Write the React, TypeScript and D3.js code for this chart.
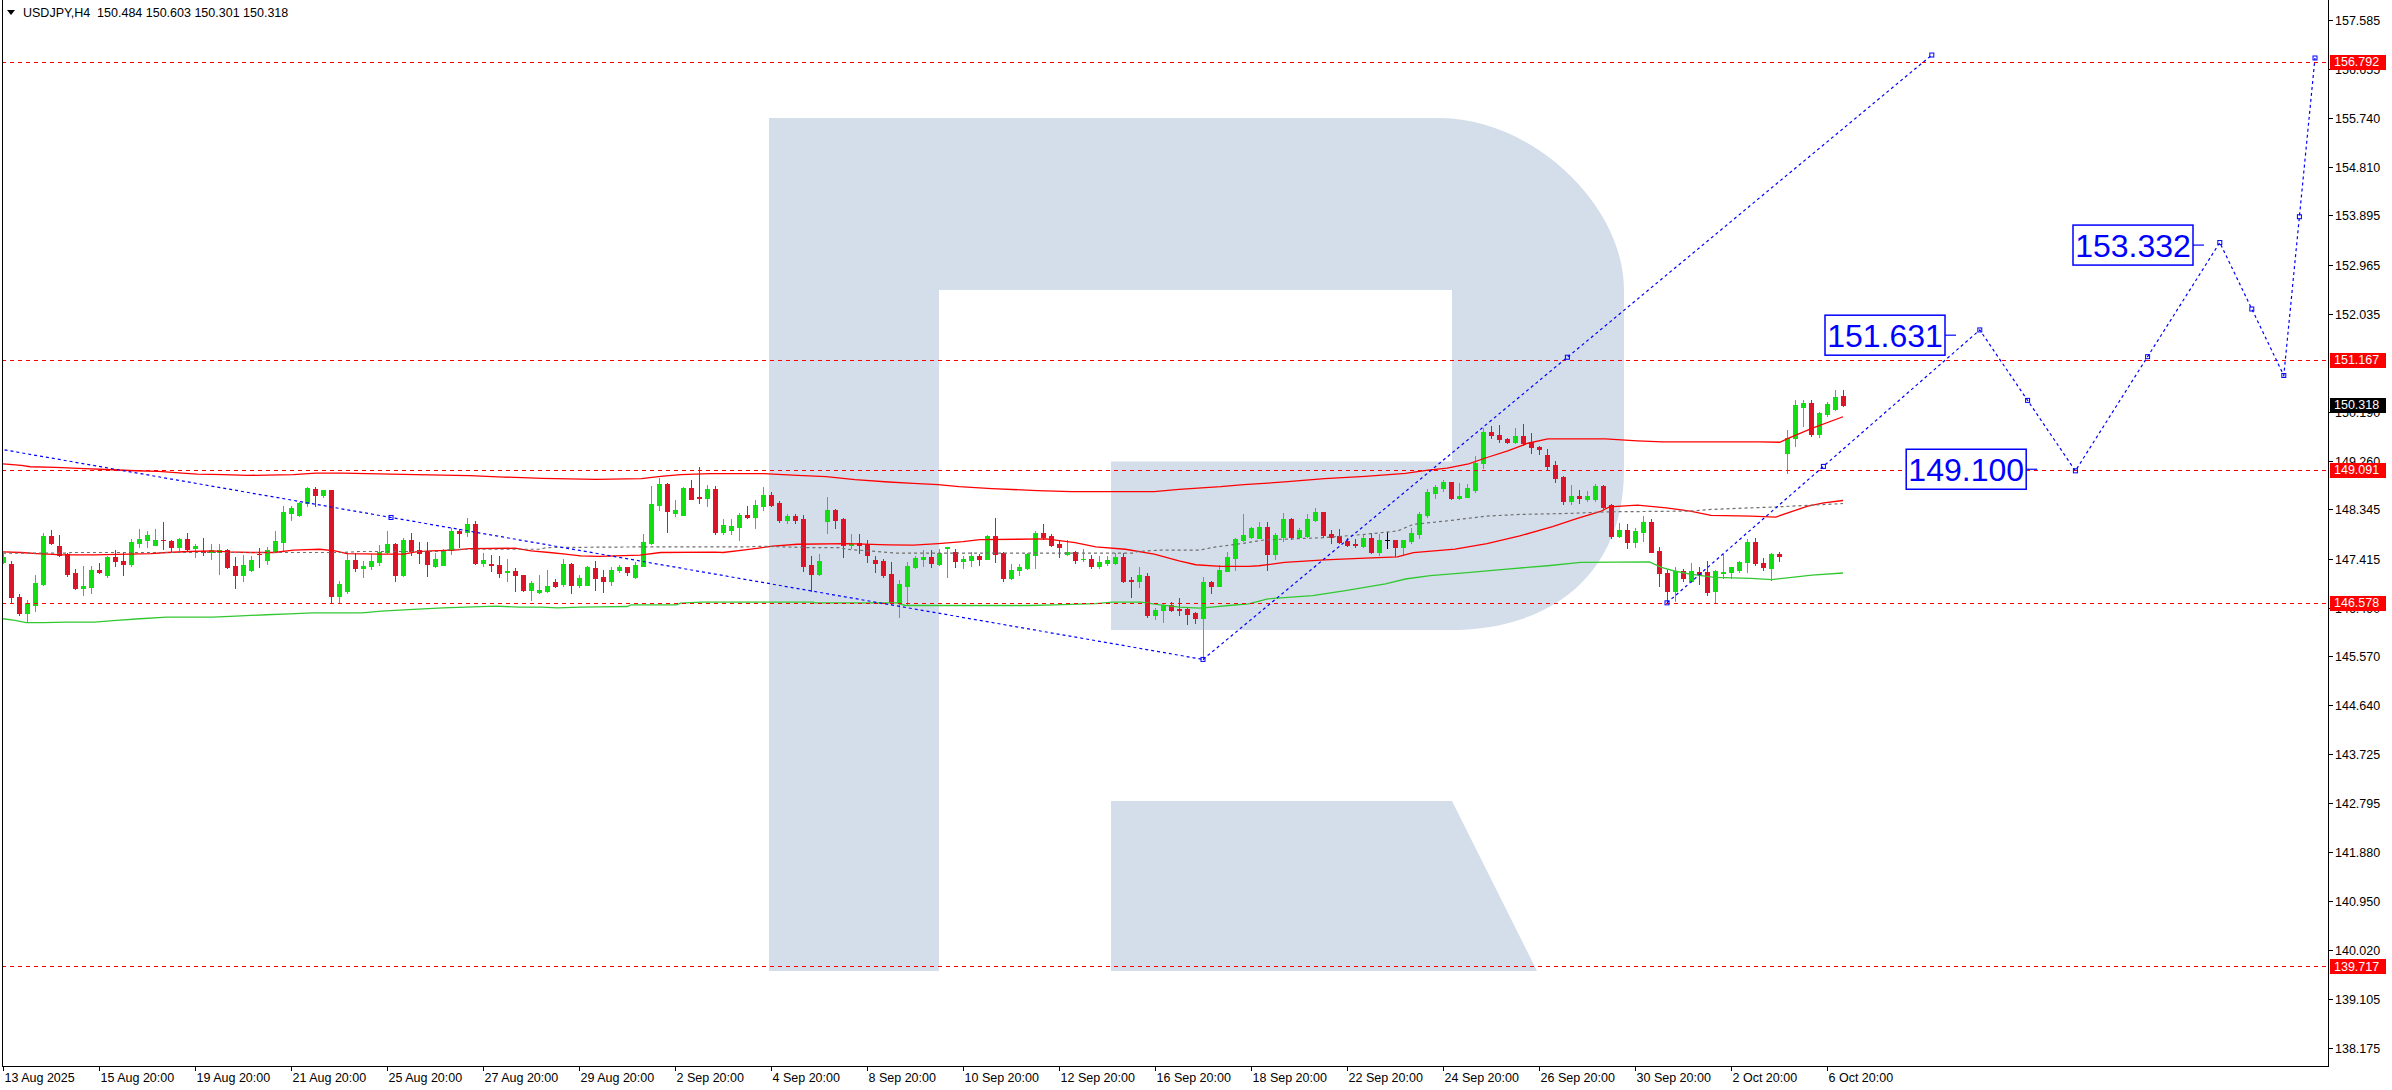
import React from 'react';
import * as d3 from 'd3';

const WIDTH = 2392;
const HEIGHT = 1090;
const PLOT_L = 2;
const PLOT_R = 2328;
const PLOT_T = 0;
const PLOT_B = 1066;

const FONT = "Tahoma, 'Liberation Sans', Arial, sans-serif";
const BULL = '#12dc12';
const BEAR = '#dc1428';
const RED = '#ff0000';
const BLUE = '#0000ff';
const LOGO = '#d4deea';

const symbolTitle = 'USDJPY,H4  150.484 150.603 150.301 150.318';

const timeLabels = [
  '13 Aug 2025', '15 Aug 20:00', '19 Aug 20:00', '21 Aug 20:00', '25 Aug 20:00',
  '27 Aug 20:00', '29 Aug 20:00', '2 Sep 20:00', '4 Sep 20:00', '8 Sep 20:00',
  '10 Sep 20:00', '12 Sep 20:00', '16 Sep 20:00', '18 Sep 20:00', '22 Sep 20:00',
  '24 Sep 20:00', '26 Sep 20:00', '30 Sep 20:00', '2 Oct 20:00', '6 Oct 20:00',
];
const timeLabelBars = [0, 12, 24, 36, 48, 60, 72, 84, 96, 108, 120, 132, 144, 156, 168, 180, 192, 204, 216, 228];

const priceTicks = [
  157.585, 156.655, 155.74, 154.81, 153.895, 152.965, 152.035, 150.19, 149.26,
  148.345, 147.415, 146.49, 145.57, 144.64, 143.725, 142.795, 141.88, 140.95, 140.02,
  139.105, 138.175,
];

const levelPrices = [156.792, 151.167, 149.091, 146.578, 139.717];
const lastPrice = 150.318;

const opens = [
  147.341, 147.309, 146.696, 146.384, 146.540, 146.934, 147.840, 147.653, 147.509, 147.146,
  146.853, 146.871, 147.203, 147.109, 147.434, 147.372, 147.315, 147.715, 147.765, 147.678,
  147.765, 147.747, 147.640, 147.784, 147.609, 147.559, 147.547, 147.547, 147.578, 147.278,
  147.096, 147.203, 147.509, 147.378, 147.559, 147.734, 148.278, 148.228, 148.466, 148.734,
  148.616, 148.703, 146.703, 146.809, 147.390, 147.228, 147.265, 147.353, 147.540, 147.690,
  147.096, 147.765, 147.578, 147.559, 147.278, 147.297, 147.578, 147.934, 147.922, 148.065,
  147.334, 147.315, 147.297, 147.153, 147.184, 147.109, 146.828, 146.778, 146.809, 146.965,
  146.934, 147.309, 146.909, 146.922, 147.240, 147.059, 146.984, 147.190, 147.247, 147.072,
  147.278, 147.715, 148.428, 148.822, 148.272, 148.240, 148.741, 148.584, 148.559, 148.722,
  147.915, 147.959, 148.009, 148.234, 148.197, 148.403, 148.609, 148.459, 148.140, 148.215,
  148.165, 147.297, 147.121, 148.122, 148.328, 148.165, 147.672, 147.709, 147.684, 147.390,
  147.359, 147.128, 146.603, 146.903, 147.259, 147.397, 147.434, 147.309, 147.622, 147.540,
  147.359, 147.390, 147.465, 147.415, 147.840, 147.522, 147.040, 147.197, 147.228, 147.484,
  147.897, 147.840, 147.697, 147.497, 147.540, 147.397, 147.415, 147.265, 147.322, 147.322,
  147.447, 147.015, 146.984, 147.090, 146.353, 146.447, 146.540, 146.459, 146.453, 146.384,
  146.290, 146.978, 146.903, 147.184, 147.422, 147.765, 147.822, 147.809, 148.015, 147.509,
  147.828, 148.160, 147.822, 147.840, 148.147, 148.291, 147.872, 147.841, 147.747, 147.691,
  147.653, 147.809, 147.547, 147.759, 147.766, 147.641, 147.747, 147.884, 148.235, 148.653,
  148.747, 148.860, 148.560, 148.578, 148.703, 149.216, 149.810, 149.747, 149.672, 149.622,
  149.735, 149.622, 149.528, 149.378, 149.172, 148.947, 148.510, 148.591, 148.547, 148.541,
  148.778, 148.422, 147.841, 147.953, 147.728, 147.922, 148.103, 147.560, 147.147, 146.797,
  147.172, 146.985, 147.153, 147.166, 146.809, 147.147, 147.153, 147.203, 147.341, 147.728,
  147.328, 147.234, 147.509, 149.403, 149.685, 150.279, 150.354, 149.760, 150.141, 150.235,
  150.484,
];
const highs = [
  147.497, 147.372, 146.746, 146.634, 147.109, 147.897, 147.953, 147.859, 147.522, 147.215,
  147.278, 147.265, 147.328, 147.465, 147.578, 147.534, 147.790, 147.972, 147.934, 147.978,
  148.103, 147.772, 147.809, 147.897, 147.684, 147.809, 147.684, 147.684, 147.590, 147.447,
  147.484, 147.465, 147.622, 147.634, 147.934, 148.403, 148.403, 148.491, 148.759, 148.759,
  148.716, 148.716, 146.997, 147.528, 147.522, 147.372, 147.497, 147.665, 147.934, 147.703,
  147.809, 147.897, 147.728, 147.728, 147.528, 147.590, 147.997, 147.978, 148.172, 148.122,
  147.515, 147.478, 147.465, 147.403, 147.228, 147.109, 146.997, 147.109, 147.203, 147.028,
  147.415, 147.322, 147.109, 147.265, 147.372, 147.203, 147.247, 147.297, 147.247, 147.341,
  147.872, 148.778, 148.934, 148.841, 148.516, 148.759, 148.903, 149.141, 148.797, 148.778,
  148.153, 148.165, 148.272, 148.397, 148.516, 148.759, 148.672, 148.509, 148.247, 148.247,
  148.228, 147.465, 147.497, 148.572, 148.353, 148.184, 147.884, 147.872, 147.772, 147.465,
  147.415, 147.341, 147.015, 147.353, 147.465, 147.578, 147.578, 147.590, 147.634, 147.590,
  147.465, 147.540, 147.497, 147.853, 148.184, 147.540, 147.309, 147.309, 147.528, 147.934,
  148.072, 147.872, 147.747, 147.759, 147.559, 147.590, 147.484, 147.465, 147.465, 147.528,
  147.528, 147.059, 147.259, 147.140, 146.478, 146.571, 146.590, 146.665, 146.484, 146.403,
  147.059, 146.997, 147.290, 147.540, 147.809, 148.247, 148.015, 148.110, 148.103, 147.903,
  148.272, 148.172, 147.997, 148.247, 148.372, 148.297, 147.947, 147.966, 147.809, 147.778,
  147.859, 147.891, 147.872, 147.916, 147.766, 147.772, 147.997, 148.291, 148.728, 148.810,
  148.903, 148.866, 148.841, 148.828, 149.341, 149.872, 149.916, 149.935, 149.697, 149.872,
  149.947, 149.778, 149.547, 149.485, 149.260, 148.966, 148.797, 148.716, 148.684, 148.828,
  148.797, 148.447, 148.091, 148.059, 147.997, 148.216, 148.153, 147.634, 147.197, 147.247,
  147.216, 147.322, 147.247, 147.372, 147.197, 147.509, 147.259, 147.372, 147.778, 147.809,
  147.422, 147.528, 147.541, 149.841, 150.404, 150.416, 150.416, 150.185, 150.372, 150.604,
  150.603,
];
const lows = [
  147.322, 146.603, 146.340, 146.215, 146.421, 146.922, 147.684, 147.453, 147.090, 146.840,
  146.728, 146.759, 147.146, 147.072, 147.278, 147.109, 147.265, 147.640, 147.640, 147.672,
  147.597, 147.547, 147.584, 147.584, 147.434, 147.490, 147.415, 147.121, 147.228, 146.853,
  146.997, 147.184, 147.247, 147.309, 147.540, 147.559, 148.140, 148.215, 148.397, 148.397,
  148.572, 146.578, 146.590, 146.765, 147.184, 147.072, 147.215, 147.290, 147.522, 146.984,
  147.090, 147.478, 147.322, 147.090, 147.247, 147.297, 147.509, 147.634, 147.840, 147.309,
  147.278, 147.184, 147.072, 146.984, 146.809, 146.809, 146.640, 146.765, 146.778, 146.878,
  146.903, 146.759, 146.871, 146.909, 146.828, 146.778, 146.922, 147.153, 147.109, 147.040,
  147.265, 147.684, 148.340, 147.922, 148.215, 148.234, 148.534, 148.466, 148.403, 147.884,
  147.872, 147.872, 147.772, 148.172, 147.997, 148.322, 148.403, 148.103, 148.078, 148.078,
  147.184, 146.809, 147.109, 147.903, 147.997, 147.447, 147.622, 147.528, 147.341, 147.153,
  147.059, 146.559, 146.309, 146.559, 147.234, 147.278, 147.259, 147.297, 147.059, 147.247,
  147.228, 147.265, 147.290, 147.403, 147.341, 146.984, 147.028, 147.109, 147.215, 147.228,
  147.778, 147.653, 147.447, 147.484, 147.322, 147.372, 147.234, 147.234, 147.297, 147.309,
  146.978, 146.684, 146.871, 146.309, 146.265, 146.215, 146.415, 146.353, 146.171, 146.197,
  145.509, 146.759, 146.890, 147.172, 147.203, 147.747, 147.809, 147.797, 147.203, 147.403,
  147.747, 147.778, 147.809, 147.828, 148.122, 147.822, 147.716, 147.716, 147.647, 147.641,
  147.641, 147.528, 147.484, 147.609, 147.453, 147.497, 147.716, 147.809, 148.197, 148.560,
  148.684, 148.541, 148.547, 148.572, 148.666, 149.122, 149.697, 149.622, 149.603, 149.591,
  149.560, 149.403, 149.391, 149.091, 148.860, 148.447, 148.447, 148.466, 148.510, 148.510,
  148.372, 147.809, 147.828, 147.622, 147.641, 147.747, 147.541, 146.903, 146.572, 146.609,
  146.997, 146.966, 146.934, 146.728, 146.578, 147.047, 147.047, 147.166, 147.166, 147.297,
  147.203, 147.009, 147.372, 149.028, 149.541, 149.922, 149.735, 149.716, 150.110, 150.216,
  150.301,
];
const closes = [
  147.434, 146.684, 146.384, 146.571, 146.953, 147.840, 147.715, 147.472, 147.121, 146.853,
  146.890, 147.203, 147.153, 147.434, 147.359, 147.315, 147.728, 147.784, 147.859, 147.765,
  147.759, 147.640, 147.784, 147.603, 147.659, 147.547, 147.572, 147.584, 147.247, 147.096,
  147.297, 147.384, 147.497, 147.578, 147.747, 148.290, 148.372, 148.466, 148.747, 148.616,
  148.703, 146.703, 146.934, 147.390, 147.228, 147.278, 147.372, 147.540, 147.690, 147.096,
  147.765, 147.559, 147.528, 147.303, 147.415, 147.559, 147.934, 147.897, 148.059, 147.334,
  147.390, 147.284, 147.146, 147.184, 147.096, 146.828, 146.959, 146.828, 146.903, 146.890,
  147.309, 146.909, 147.040, 147.247, 147.040, 146.984, 147.203, 147.247, 147.153, 147.297,
  147.728, 148.441, 148.822, 148.309, 148.328, 148.747, 148.547, 148.559, 148.722, 147.915,
  148.047, 148.028, 148.234, 148.197, 148.422, 148.609, 148.422, 148.140, 148.209, 148.140,
  147.278, 147.128, 147.372, 148.328, 148.140, 147.672, 147.697, 147.672, 147.484, 147.328,
  147.103, 146.603, 146.928, 147.278, 147.428, 147.434, 147.322, 147.528, 147.634, 147.359,
  147.415, 147.465, 147.415, 147.840, 147.509, 147.040, 147.203, 147.247, 147.497, 147.903,
  147.822, 147.672, 147.634, 147.540, 147.390, 147.415, 147.265, 147.341, 147.390, 147.447,
  146.997, 146.984, 147.109, 146.340, 146.447, 146.540, 146.434, 146.440, 146.359, 146.290,
  146.978, 146.903, 147.203, 147.434, 147.790, 147.859, 147.997, 148.015, 147.509, 147.859,
  148.160, 147.828, 147.953, 148.160, 148.291, 147.853, 147.828, 147.728, 147.672, 147.672,
  147.809, 147.540, 147.766, 147.759, 147.641, 147.766, 147.891, 148.247, 148.666, 148.766,
  148.860, 148.560, 148.591, 148.747, 149.216, 149.797, 149.747, 149.672, 149.610, 149.728,
  149.603, 149.528, 149.485, 149.153, 148.935, 148.510, 148.591, 148.560, 148.591, 148.778,
  148.391, 147.841, 147.947, 147.728, 147.935, 148.103, 147.547, 147.134, 146.809, 147.172,
  147.041, 147.172, 147.122, 146.778, 147.172, 147.166, 147.247, 147.353, 147.728, 147.328,
  147.247, 147.509, 147.453, 149.697, 150.310, 150.354, 149.760, 150.154, 150.341, 150.466,
  150.318,
];

// indicator lines: [bar index, price]
const maUpperRed: [number, number][] = [
  [0, 149.203], [2.3, 149.172], [3.4, 149.147], [6.6, 149.134], [9.4, 149.116], [13.7, 149.091],
  [16.6, 149.072], [19.5, 149.059], [22.4, 149.028], [24.3, 149.009], [27.6, 148.997], [30.5, 148.984],
  [36.3, 148.997], [39.1, 149.028], [42.5, 149.028], [45.4, 149.016], [51.6, 148.997], [58.3, 148.978],
  [62.6, 148.953], [67.4, 148.928], [74.1, 148.909], [79.8, 148.922], [82.2, 148.966], [84.7, 148.997],
  [88.4, 149.016], [95.1, 149.016], [99.3, 148.984], [102.9, 148.959], [106.5, 148.903], [110.7, 148.859],
  [113.8, 148.834], [116.9, 148.809], [119.5, 148.772], [123.6, 148.734], [129.3, 148.697], [133.5, 148.678],
  [143.9, 148.678], [147.0, 148.722], [152.2, 148.772], [155.1, 148.81], [160.2, 148.86], [165.2, 148.922],
  [170.3, 148.966], [175.3, 149.022], [177.9, 149.078], [180.5, 149.122], [183.2, 149.203], [185.5, 149.322],
  [188.1, 149.447], [190.6, 149.591], [193.1, 149.672], [200.3, 149.672], [204.3, 149.635], [207.4, 149.616],
  [219.5, 149.616], [222.1, 149.61], [223, 149.672], [226.1, 149.872], [230, 150.091],
];
const maMidRed: [number, number][] = [
  [0, 147.54], [2.3, 147.528], [4.2, 147.509], [7.5, 147.484], [11.4, 147.484], [15.7, 147.497],
  [18.5, 147.509], [20.5, 147.528], [23.3, 147.547], [26.2, 147.559], [28.1, 147.54], [31.0, 147.528],
  [33.9, 147.528], [36.3, 147.572], [39.6, 147.59], [41.5, 147.559], [43.0, 147.509], [47.3, 147.497],
  [50.1, 147.497], [51.6, 147.54], [53.5, 147.559], [56.4, 147.572], [58.3, 147.603], [64.0, 147.609],
  [66.0, 147.559], [68.3, 147.528], [70.3, 147.497], [72.2, 147.465], [74.5, 147.456], [79.6, 147.478],
  [82.2, 147.528], [88.9, 147.534], [90.0, 147.528], [93.0, 147.584], [96.2, 147.647], [99.3, 147.684],
  [105.5, 147.697], [110.7, 147.672], [113.8, 147.666], [116.9, 147.697], [120.0, 147.734], [122.1, 147.772],
  [130.4, 147.784], [134.0, 147.716], [136.6, 147.634], [140.3, 147.59], [143.9, 147.497], [147.0, 147.372],
  [149.1, 147.297], [152.2, 147.265], [155.7, 147.265], [157, 147.278], [160.2, 147.341], [165.2, 147.391],
  [170.3, 147.422], [174.3, 147.447], [176.3, 147.528], [181.5, 147.591], [185.5, 147.697], [189.6, 147.841],
  [193.7, 148.016], [196.7, 148.166], [199.8, 148.31], [200.8, 148.391], [204.3, 148.422], [207.9, 148.372],
  [210.9, 148.31], [213.5, 148.228], [218.5, 148.216], [221.6, 148.197], [223.1, 148.278], [225.6, 148.403],
  [227.6, 148.466], [230, 148.51],
];
const maGrey: [number, number][] = [
  [0, 147.516], [8, 147.516], [8.5, 147.528], [42.5, 147.528], [44.5, 147.547], [55, 147.547],
  [56, 147.59], [67, 147.59], [68, 147.622], [79.6, 147.634], [92.7, 147.634], [95.1, 147.647],
  [97.7, 147.634], [100.3, 147.622], [104.5, 147.622], [105.5, 147.59], [108.1, 147.559], [111.7, 147.516],
  [141.3, 147.516], [141.8, 147.547], [144.4, 147.572], [149.6, 147.572], [151.1, 147.622], [154.8, 147.697],
  [157.7, 147.766], [165.2, 147.809], [170.3, 147.872], [174.3, 147.934], [176.3, 148.06], [180.3, 148.122],
  [185.5, 148.216], [189.6, 148.247], [195.7, 148.266], [200.8, 148.297], [210.9, 148.31], [213.5, 148.341],
  [218.5, 148.372], [221.1, 148.385], [226.1, 148.422], [230, 148.453],
];
const maGreen: [number, number][] = [
  [0, 146.278], [1.5, 146.246], [2.9, 146.203], [5.1, 146.203], [8, 146.215], [11.4, 146.215],
  [14.2, 146.246], [17.1, 146.278], [20.5, 146.309], [26.2, 146.309], [29.1, 146.328], [32.9, 146.353],
  [35.8, 146.371], [38.7, 146.39], [44.9, 146.39], [47.3, 146.421], [50.1, 146.446], [52.5, 146.465],
  [55.0, 146.484], [57.8, 146.497], [61.6, 146.515], [64.5, 146.497], [67.4, 146.497], [69.3, 146.484],
  [72.2, 146.497], [74.5, 146.503], [78.0, 146.509], [78.5, 146.54], [84.2, 146.54], [84.7, 146.572],
  [87.3, 146.59], [101.3, 146.59], [101.4, 146.578], [111.7, 146.578], [112.8, 146.528], [128.3, 146.528],
  [131.4, 146.54], [136.6, 146.565], [138.7, 146.59], [142.3, 146.59], [144.4, 146.546], [147.0, 146.497],
  [149.6, 146.478], [151.1, 146.497], [153.2, 146.528], [155.7, 146.559], [158.1, 146.653], [163.7, 146.716],
  [167.8, 146.809], [172.8, 146.934], [175.3, 147.028], [178.4, 147.091], [183.4, 147.153], [188, 147.216],
  [193.1, 147.278], [197.2, 147.341], [205.8, 147.353], [207.3, 147.247], [208.8, 147.184], [210.9, 147.122],
  [213.9, 147.059], [218.5, 147.041], [221.1, 147.016], [223.6, 147.059], [226.1, 147.103], [230, 147.141],
];

// forecast / trend objects: [bar index, price]
const trendDown: [number, number][] = [[-53, 150.87], [150, 145.51]];
const trendUp: [number, number][] = [[150, 145.51], [241.1, 156.92]];
const forecastPath: [number, number][] = [
  [208, 146.578], [247.1, 151.73], [259.05, 149.07], [277.1, 153.38], [285.1, 150.87], [289, 156.864],
];
const forecastLabels = ['151.631', '153.332', '149.100'];
const forecastLabelPrices = [151.631, 153.332, 149.1];
const forecastLabelRightBar = [242.75, 273.75, 252.9];

const x = d3.scaleLinear().domain([0, 1]).range([3, 11]);
const y = d3.scaleLinear().domain([138.175, 157.585]).range([1047.95, 19.8]);

const line = d3
  .line<[number, number]>()
  .x((d) => x(d[0]))
  .y((d) => y(d[1]));

function markers(pts: [number, number][], withMid: boolean) {
  const out: [number, number][] = [];
  pts.forEach((p, i) => {
    out.push([x(p[0]), y(p[1])]);
    if (withMid && i > 0) {
      const q = pts[i - 1];
      out.push([(x(p[0]) + x(q[0])) / 2, (y(p[1]) + y(q[1])) / 2]);
    }
  });
  return out;
}

export default function App() {
  const fmt = d3.format('.3f');
  const markerPts = [
    ...markers(trendUp, true),
    ...markers(forecastPath, true),
    [(x(trendDown[0][0]) + x(trendDown[1][0])) / 2, (y(trendDown[0][1]) + y(trendDown[1][1])) / 2] as [number, number],
  ];

  return (
    <svg
      width={WIDTH}
      height={HEIGHT}
      style={{ position: 'absolute', left: 0, top: 0, background: '#ffffff', fontFamily: FONT }}
    >
      <defs>
        <clipPath id="plot">
          <rect x={PLOT_L} y={PLOT_T} width={PLOT_R - PLOT_L} height={PLOT_B - PLOT_T} />
        </clipPath>
      </defs>
      <rect x={0} y={0} width={WIDTH} height={HEIGHT} fill="#ffffff" />

      {/* watermark logo */}
      <g fill={LOGO}>
        <path d="M769,118 H1440 C1531,118 1624,204 1624,290 V470 C1624,569 1557,630 1450,630 H1111 V461.5 H1452 V290 H939 V971 H769 Z" />
        <path d="M1111,801 H1452 L1537,971 H1111 Z" />
      </g>

      <g clipPath="url(#plot)">
        {/* candles */}
        {opens.map((o, i) => {
          const c = closes[i];
          const cx = Math.round(x(i));
          const color = o === c ? '#000000' : c > o ? BULL : BEAR;
          const top = Math.round(y(Math.max(o, c)));
          const bot = Math.round(y(Math.min(o, c)));
          return (
            <g key={i}>
              <line
                x1={cx + 0.5}
                x2={cx + 0.5}
                y1={Math.round(y(highs[i]))}
                y2={Math.round(y(lows[i])) + 1}
                stroke={color}
                strokeWidth={1}
                shapeRendering="crispEdges"
              />
              {o === c ? (
                <line x1={cx - 2} x2={cx + 3} y1={top + 0.5} y2={top + 0.5} stroke={color} shapeRendering="crispEdges" />
              ) : (
                <rect x={cx - 2} y={top} width={5} height={Math.max(1, bot - top + 1)} fill={color} shapeRendering="crispEdges" />
              )}
            </g>
          );
        })}

        {/* indicator lines */}
        <path d={line(maUpperRed) || ''} fill="none" stroke={RED} strokeWidth={1.3} />
        <path d={line(maMidRed) || ''} fill="none" stroke={RED} strokeWidth={1.3} />
        <path d={line(maGrey) || ''} fill="none" stroke="#6e6e6e" strokeWidth={1.2} strokeDasharray="3,3" />
        <path d={line(maGreen) || ''} fill="none" stroke="#32c832" strokeWidth={1.3} />

        {/* horizontal levels */}
        {levelPrices.map((p, i) => (
          <line
            key={i}
            x1={PLOT_L}
            x2={PLOT_R}
            y1={Math.round(y(p)) + 0.5}
            y2={Math.round(y(p)) + 0.5}
            stroke={RED}
            strokeWidth={1}
            strokeDasharray="4,4"
            shapeRendering="crispEdges"
          />
        ))}

        {/* trend lines and forecast */}
        <path d={line(trendDown) || ''} fill="none" stroke={BLUE} strokeWidth={1.2} strokeDasharray="3,3" />
        <path d={line(trendUp) || ''} fill="none" stroke={BLUE} strokeWidth={1.2} strokeDasharray="3,3" />
        <path d={line(forecastPath) || ''} fill="none" stroke={BLUE} strokeWidth={1.2} strokeDasharray="3,3" />
        {markerPts.map((m, i) => (
          <rect key={i} x={m[0] - 2} y={m[1] - 2} width={4} height={4} fill="none" stroke={BLUE} strokeWidth={1} />
        ))}

        {/* forecast labels */}
        {forecastLabels.map((t, i) => {
          const right = x(forecastLabelRightBar[i]);
          const cy = y(forecastLabelPrices[i]);
          return (
            <g key={t}>
              <line x1={right} x2={right + 11} y1={cy} y2={cy} stroke={BLUE} strokeWidth={1.2} />
              <rect x={right - 120} y={cy - 20} width={120} height={40} fill="#ffffff" stroke={BLUE} strokeWidth={1.5} />
              <text x={right - 60} y={cy + 12} textAnchor="middle" fontSize={32} fill={BLUE} fontFamily={FONT}>
                {t}
              </text>
            </g>
          );
        })}
      </g>

      {/* frame */}
      <line x1={PLOT_L + 0.5} x2={PLOT_L + 0.5} y1={0} y2={PLOT_B + 1} stroke="#000" shapeRendering="crispEdges" />
      <line x1={PLOT_L} x2={PLOT_R + 1} y1={PLOT_B + 0.5} y2={PLOT_B + 0.5} stroke="#000" shapeRendering="crispEdges" />
      <line x1={PLOT_R + 0.5} x2={PLOT_R + 0.5} y1={0} y2={PLOT_B + 1} stroke="#000" shapeRendering="crispEdges" />

      {/* price axis */}
      {priceTicks.map((p, i) => {
        const ty = Math.round(y(p)) + 0.5;
        return (
          <g key={i}>
            <line x1={PLOT_R} x2={PLOT_R + 5} y1={ty} y2={ty} stroke="#000" shapeRendering="crispEdges" />
            <text x={PLOT_R + 7} y={ty + 4.5} fontSize={12.5} fill="#000">
              {fmt(p)}
            </text>
          </g>
        );
      })}
      {levelPrices.map((p, i) => {
        const ty = y(p);
        return (
          <g key={i}>
            <rect x={PLOT_R + 2} y={Math.round(ty) - 7} width={56} height={15} fill={RED} />
            <text x={PLOT_R + 6} y={ty + 4.5} fontSize={12.5} fill="#fff">
              {fmt(p)}
            </text>
          </g>
        );
      })}
      <g>
        <rect x={PLOT_R + 2} y={Math.round(y(lastPrice)) - 7} width={56} height={15} fill="#000" />
        <text x={PLOT_R + 6} y={y(lastPrice) + 4.5} fontSize={12.5} fill="#fff">
          {fmt(lastPrice)}
        </text>
      </g>

      {/* time axis */}
      {timeLabels.map((t, i) => {
        const tx = Math.round(x(timeLabelBars[i])) + 0.5;
        return (
          <g key={t}>
            <line x1={tx} x2={tx} y1={PLOT_B} y2={PLOT_B + 5} stroke="#000" shapeRendering="crispEdges" />
            <text x={tx + 1} y={1082} fontSize={12.5} fill="#000">
              {t}
            </text>
          </g>
        );
      })}

      {/* title */}
      <path d="M7,10 L15,10 L11,15 Z" fill="#000" />
      <text x={23} y={16.5} fontSize={12.5} fill="#000" style={{ whiteSpace: 'pre' }}>
        {symbolTitle}
      </text>
    </svg>
  );
}
